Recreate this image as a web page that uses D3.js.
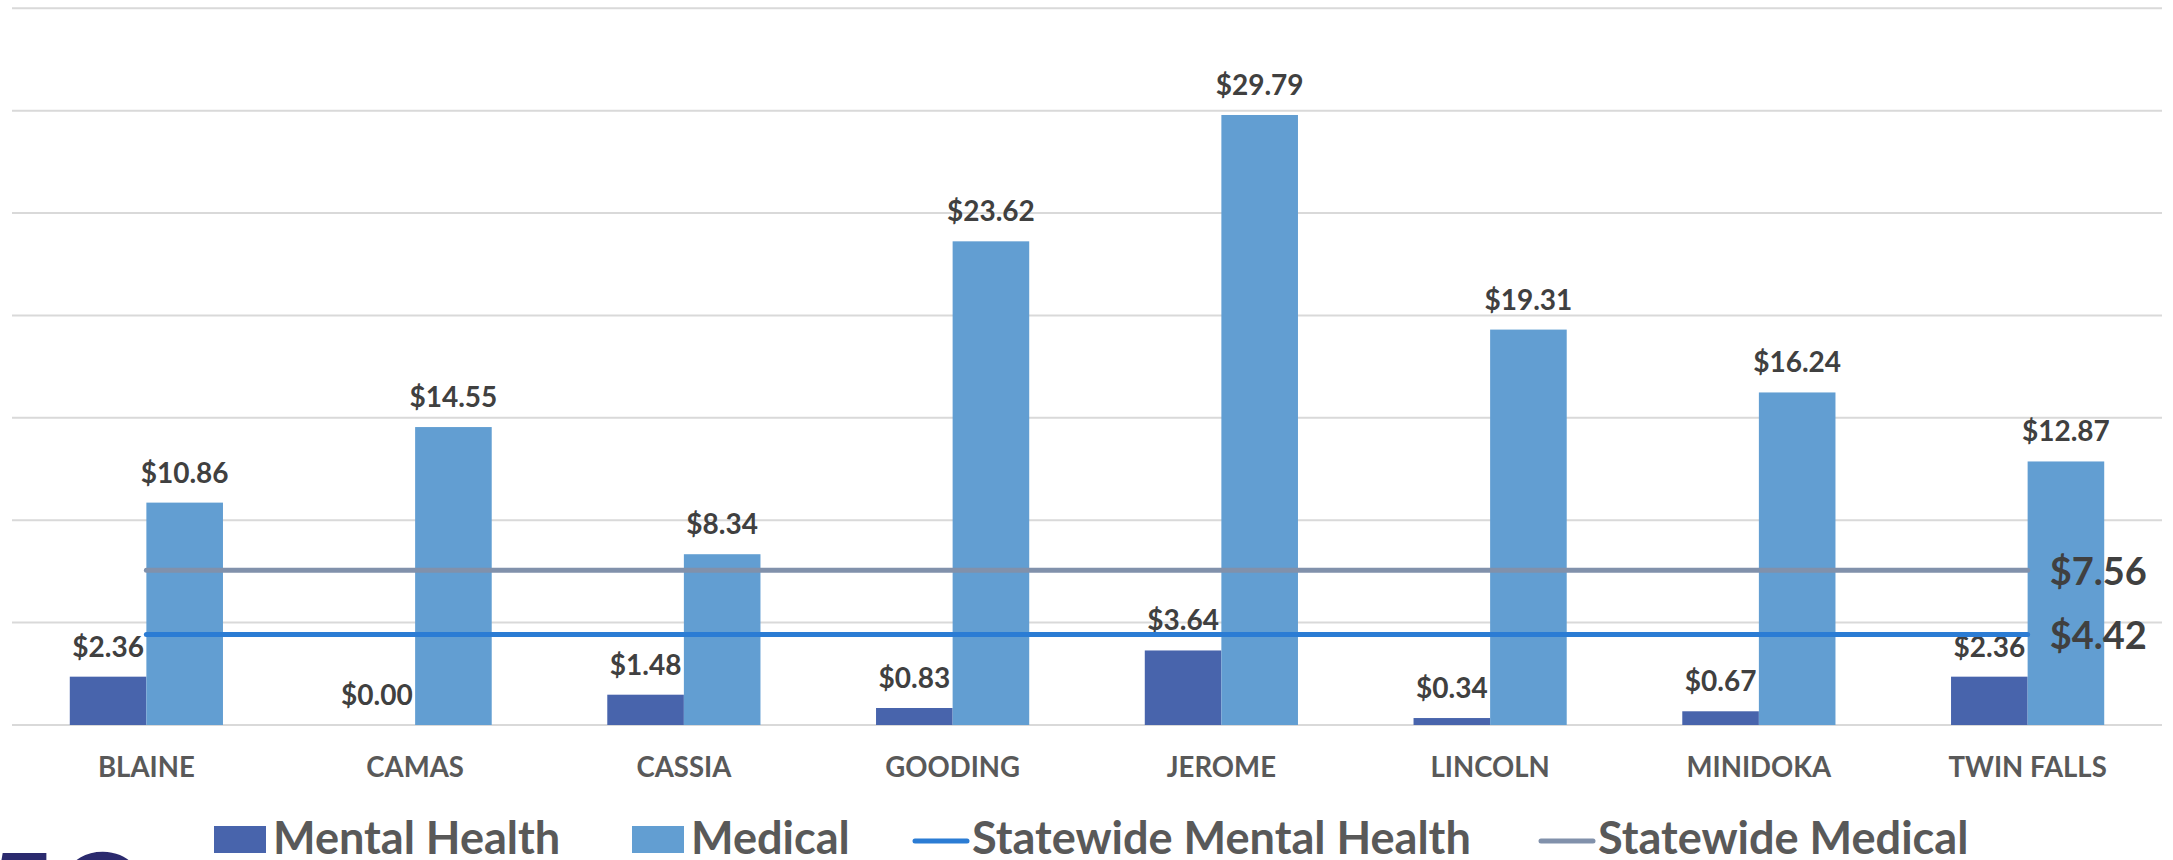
<!DOCTYPE html>
<html>
<head>
<meta charset="utf-8">
<script src="https://cdn.jsdelivr.net/npm/d3@7"></script>
<style>
  html, body { margin: 0; padding: 0; background: #ffffff; overflow: hidden; }
  svg { display: block; }
</style>
</head>
<body>
<svg id="chart" width="2173" height="860"></svg>
<script>
// ---- data ----
const categories = ["BLAINE", "CAMAS", "CASSIA", "GOODING", "JEROME", "LINCOLN", "MINIDOKA", "TWIN FALLS"];
const mentalHealth = [2.36, 0.00, 1.48, 0.83, 3.64, 0.34, 0.67, 2.36];
const medical = [10.86, 14.55, 8.34, 23.62, 29.79, 19.31, 16.24, 12.87];
const statewideMentalHealth = [4.42, 4.42, 4.42, 4.42, 4.42, 4.42, 4.42, 4.42];
const statewideMedical = [7.56, 7.56, 7.56, 7.56, 7.56, 7.56, 7.56, 7.56];
const yTicks = [0, 5, 10, 15, 20, 25, 30, 35];
const seriesNames = ["Mental Health", "Medical", "Statewide Mental Health", "Statewide Medical"];

// ---- layout ----
const W = 2173, H = 860;
const plotLeft = 12, plotRight = 2162, plotTop = 8.3, plotBottom = 725;
const colors = {
  mh: "#4864AC",
  med: "#629ED2",
  swMH: "#2B7CD4",
  swMed: "#8191AB"
};
const fmt = v => "$" + v.toFixed(2);
const font = "Lato, 'Open Sans', sans-serif";

const svg = d3.select("#chart");

const x0 = d3.scaleBand().domain(categories).range([plotLeft, plotRight])
  .paddingInner(0.43).paddingOuter(0.215);
const x1 = d3.scaleBand().domain(["mh", "med"]).range([0, x0.bandwidth()]);
const y = d3.scaleLinear().domain([0, 35]).range([plotBottom, plotTop]);
const xc = c => x0(c) + x0.bandwidth() / 2;

// gridlines
svg.append("g").selectAll("line").data(yTicks).join("line")
  .attr("x1", plotLeft).attr("x2", plotRight)
  .attr("y1", d => y(d)).attr("y2", d => y(d))
  .attr("stroke", "#d9d9d9").attr("stroke-width", 2);

// bars
const groups = svg.append("g").selectAll("g").data(categories).join("g")
  .attr("transform", c => `translate(${x0(c)},0)`);

groups.append("rect")
  .attr("x", x1("mh")).attr("width", x1.bandwidth())
  .attr("y", (c, i) => y(mentalHealth[i]))
  .attr("height", (c, i) => y(0) - y(mentalHealth[i]))
  .attr("fill", colors.mh);

groups.append("rect")
  .attr("x", x1("med")).attr("width", x1.bandwidth())
  .attr("y", (c, i) => y(medical[i]))
  .attr("height", (c, i) => y(0) - y(medical[i]))
  .attr("fill", colors.med);

// value labels
groups.append("text")
  .attr("x", x1("mh") + x1.bandwidth() / 2)
  .attr("y", (c, i) => y(mentalHealth[i]) - 20)
  .attr("text-anchor", "middle")
  .attr("font-family", font).attr("font-weight", "bold").attr("font-size", 28)
  .attr("fill", "#404040")
  .text((c, i) => fmt(mentalHealth[i]));

groups.append("text")
  .attr("x", x1("med") + x1.bandwidth() / 2)
  .attr("y", (c, i) => y(medical[i]) - 20)
  .attr("text-anchor", "middle")
  .attr("font-family", font).attr("font-weight", "bold").attr("font-size", 28)
  .attr("fill", "#404040")
  .text((c, i) => fmt(medical[i]));

// category axis labels (slightly condensed to mimic the original face)
svg.append("g").selectAll("text").data(categories).join("text")
  .attr("transform", c => `translate(${xc(c)},777) scale(0.95,1)`)
  .attr("text-anchor", "middle")
  .attr("font-family", font).attr("font-weight", "bold").attr("font-size", 29)
  .attr("fill", "#595959")
  .text(c => c);

// statewide lines
const line = d3.line().x((d, i) => xc(categories[i])).y(d => y(d));
svg.append("path").datum(statewideMedical)
  .attr("d", line).attr("fill", "none")
  .attr("stroke", colors.swMed).attr("stroke-width", 5).attr("stroke-linecap", "round");
svg.append("path").datum(statewideMentalHealth)
  .attr("d", line).attr("fill", "none")
  .attr("stroke", colors.swMH).attr("stroke-width", 5).attr("stroke-linecap", "round");

// end labels for statewide lines
const lastC = categories[categories.length - 1];
[statewideMedical, statewideMentalHealth].forEach(arr => {
  const v = arr[arr.length - 1];
  svg.append("text")
    .attr("x", xc(lastC) + 22).attr("y", y(v) + 15)
    .attr("font-family", font).attr("font-weight", "bold").attr("font-size", 38)
    .attr("fill", "#404040")
    .text(fmt(v));
});

// legend
const legend = svg.append("g").attr("font-family", font).attr("font-weight", "bold")
  .attr("font-size", 46).attr("fill", "#595959");
const legendItems = [
  { name: seriesNames[0], type: "rect", color: colors.mh, mx: 214, tx: 273 },
  { name: seriesNames[1], type: "rect", color: colors.med, mx: 632, tx: 691 },
  { name: seriesNames[2], type: "line", color: colors.swMH, mx: 913, tx: 972 },
  { name: seriesNames[3], type: "line", color: colors.swMed, mx: 1539, tx: 1598 }
];
legendItems.forEach(it => {
  if (it.type === "rect") {
    legend.append("rect").attr("x", it.mx).attr("y", 826).attr("width", 52).attr("height", 27)
      .attr("fill", it.color);
  } else {
    legend.append("line").attr("x1", it.mx + 2).attr("x2", it.mx + 54)
      .attr("y1", 841).attr("y2", 841)
      .attr("stroke", it.color).attr("stroke-width", 5).attr("stroke-linecap", "round");
  }
  legend.append("text")
    .attr("transform", `translate(${it.tx},854) scale(0.98,1)`)
    .text(it.name);
});

// fragment of logo text cut off at bottom-left
svg.append("text").attr("x", -14).attr("y", 940)
  .attr("font-family", font).attr("font-weight", 900).attr("font-size", 120)
  .attr("fill", "#2B2A6E").text("5C");
</script>
</body>
</html>
